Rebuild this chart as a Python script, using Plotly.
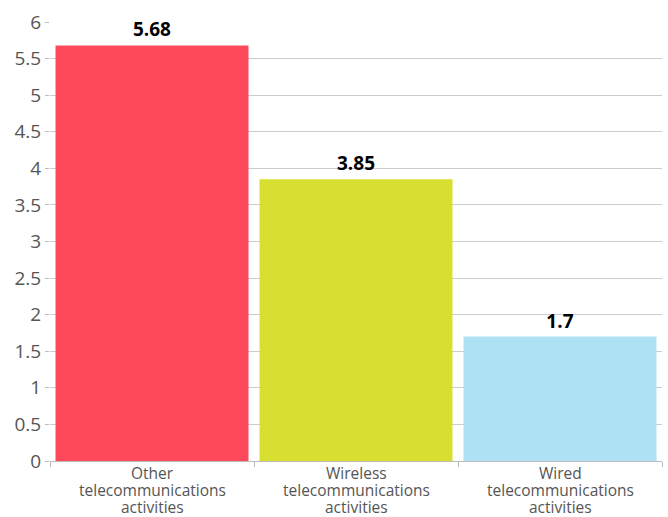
import plotly.graph_objects as go

categories = ["Other telecommunications activities",
              "Wireless telecommunications activities",
              "Wired telecommunications activities"]
label_lines = [["Other", "telecommunications", "activities"],
               ["Wireless", "telecommunications", "activities"],
               ["Wired", "telecommunications", "activities"]]
values = [5.68, 3.85, 1.7]
labels = ["5.68", "3.85", "1.7"]
colors = ["#fe4a5a", "#d9df30", "#aee1f3"]

fig = go.Figure(go.Bar(
    x=categories, y=values, marker=dict(color=colors, line=dict(width=0)),
    text=labels, textposition="outside", cliponaxis=False,
    textfont=dict(family="Open Sans", size=19, color="#000000", weight="bold"),
))

shifts = [-11.5, -28.5, -45.5]
for cat, lines in zip(categories, label_lines):
    for line, s in zip(lines, shifts):
        fig.add_annotation(x=cat, xref="x", y=0, yref="paper", yanchor="middle",
                           yshift=s, text=line, showarrow=False, borderpad=0,
                           font=dict(family="Open Sans", size=15.5, color="#555555"))

fig.update_layout(
    width=668, height=517,
    margin=dict(l=50, r=6, t=22, b=56),
    paper_bgcolor="white", plot_bgcolor="white",
    bargap=0.054, showlegend=False,
    font=dict(family="Open Sans", color="#555555"),
)
fig.update_yaxes(range=[0, 6], dtick=0.5, showgrid=True, gridcolor="#cccccc", gridwidth=1,
                 ticks="outside", ticklen=4, tickcolor="#bbbbbb", showline=False,
                 zeroline=False, automargin=False,
                 tickfont=dict(size=19, color="#555555"))
fig.update_xaxes(showline=True, linecolor="#bbbbbb", ticks="outside", tickson="boundaries",
                 ticklen=5, tickcolor="#bbbbbb", showticklabels=False, automargin=False)
fig.write_html("out.html", config={"displayModeBar": False},
               post_script="document.body.style.margin='0';")
